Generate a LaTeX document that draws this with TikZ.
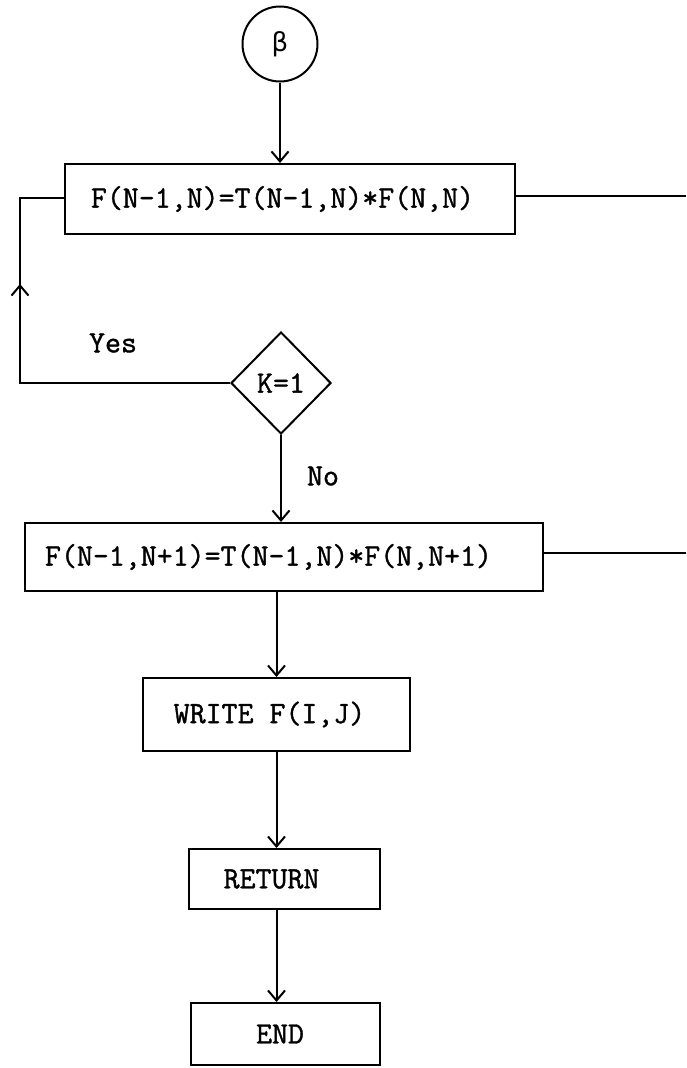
\documentclass[tikz,border=0pt]{standalone}
\usepackage{fontspec}
\newfontfamily\greekfont{DejaVu Sans}
\newfontfamily\typewriter{Latin Modern Mono}[FakeBold=1.2]
\usetikzlibrary{shapes.geometric,arrows.meta,decorations.markings}
\tikzset{
  every node/.style={font=\typewriter\bfseries\fontsize{31}{36}\selectfont},
  line/.style={line width=2pt},
  arr/.style={line width=2pt,-{Straight Barb[length=10pt,width=17pt]}},
  boxnode/.style={draw,rectangle,line width=2pt,inner sep=0pt},
  decision/.style={draw,diamond,aspect=1,line width=2pt,inner sep=0pt,minimum width=100pt,minimum height=102pt},
  connector/.style={draw,circle,line width=2pt,inner sep=0pt,minimum size=75pt},
  lbl/.style={inner sep=0pt}
}
\begin{document}
\begin{tikzpicture}[x=1pt,y=-1pt]
\useasboundingbox (0,0) rectangle (686,1068);
\node[connector] (c) at (280,44) {\greekfont\mdseries\fontsize{26}{30}\selectfont β};
\node[boxnode,minimum width=450pt,minimum height=70pt] (b1) at (290,199) {F(N-1,N)=T(N-1,N)*F(N,N)\hspace*{15pt}};
\node[decision] (k) at (281,383) {K=1};
\node[boxnode,minimum width=518pt,minimum height=68pt] (b2) at (284,557) {F(N-1,N+1)=T(N-1,N)*F(N,N+1)\hspace*{31pt}};
\node[boxnode,minimum width=267pt,minimum height=73pt] (wr) at (276.5,714.5) {WRITE F(I,J)\hspace*{14pt}};
\node[boxnode,minimum width=191pt,minimum height=60pt] (ret) at (284.5,879) {RETURN\hspace*{26pt}};
\node[boxnode,minimum width=189pt,minimum height=62pt] (en) at (285.5,1034) {END\hspace*{11pt}};
\node[lbl] (yes) at (113,343) {Yes};
\node[lbl] (no) at (323,476) {No};
\coordinate (r1) at (686,196);
\coordinate (r2) at (686,553);
\coordinate (lb) at (20,383);
\coordinate (lt) at (20,198);
% main flow
\draw[arr] (c.south) -- (c.south |- b1.north);
\draw[arr] (k.south) -- (k.south |- b2.north);
\draw[arr] (b2.south -| wr.north) -- (wr.north);
\draw[arr] (wr.south) -- (wr.south |- ret.north);
\draw[arr] (ret.south -| wr.south) -- (en.north -| wr.south);
% exits to the right
\draw[line] (b1.east |- r1) -- (r1);
\draw[line] (b2.east |- r2) -- (r2);
% yes loop
\draw[line,postaction={decorate},decoration={markings,mark=at position 309pt with {\arrow{Straight Barb[length=10pt,width=17pt]}}}]
  (k.west) -- (lb) -- (lt) -- (lt -| b1.west);
\end{tikzpicture}
\end{document}
